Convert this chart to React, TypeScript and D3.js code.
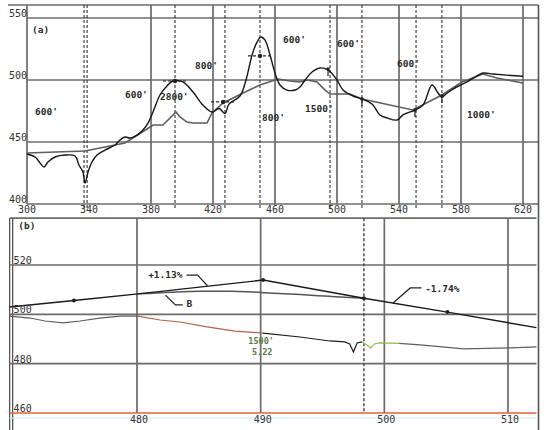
import React, { useEffect, useRef } from 'react';
import * as d3 from 'd3';

type Pt = [number, number];

// ---- panel (a): station (ft/100) vs elevation ----
const stationTicks = [300, 340, 380, 420, 460, 500, 540, 580, 620];
const gridStations = [300, 380, 420, 460, 500, 540, 580, 620];
const elevTicksA = [400, 450, 500, 550];

// existing ground profile (dark line)
const groundA: Pt[] = [
  [300, 440.3], [305.2, 437.9], [308.4, 433.1], [311.0, 429.8], [313.5, 433.9], [318.1, 437.9],
  [324.5, 439.5], [331.0, 438.7], [333.5, 431.5], [336.1, 425.8], [337.4, 416.9], [339.4, 425.8],
  [341.9, 433.9], [345.2, 439.5], [350.3, 443.5], [356.8, 447.6], [360.0, 451.6], [363.2, 454.0],
  [366.5, 453.2], [371.0, 455.6], [374.8, 459.7], [378.1, 465.3], [381.3, 474.2], [385.8, 487.9],
  [390.3, 495.2], [394.2, 499.2], [400.6, 498.4], [407.1, 490.3], [413.5, 479.8], [419.4, 474.2],
  [424.0, 477.0], [427.7, 473.0], [430.3, 480.5], [437.4, 487.1], [441.3, 500.0], [445.2, 520.2],
  [448.4, 530.6], [451.0, 534.7], [453.5, 532.3], [456.8, 520.2], [460.0, 505.6], [463.2, 496.0],
  [467.7, 491.9], [472.9, 491.9], [476.1, 494.4], [479.4, 500.0], [483.9, 506.5], [489.0, 509.7],
  [494.2, 508.1], [500.0, 500.0], [503.9, 491.9], [510.3, 487.1], [516.1, 484.7], [522.6, 480.6],
  [527.7, 471.8], [532.3, 469.4], [538.7, 467.7], [542.6, 471.8], [550.3, 475.8], [555.5, 479.8],
  [561.3, 496.0], [565.2, 489.5], [567.7, 486.3], [571.0, 489.5], [577.4, 494.4], [583.9, 498.4],
  [589.0, 502.4], [594.2, 505.6], [600.6, 504.8], [620, 503.0],
];

// grade line (gray)
const gradeA: Pt[] = [
  [300, 441.1], [337.4, 442.7], [363.2, 449.2], [377.4, 460.5], [381.3, 463.7], [387.7, 463.7],
  [392.3, 469.4], [396.1, 474.2], [398.7, 470.2], [403.2, 466.1], [407.1, 465.3], [416.1, 465.3],
  [419.4, 473.4], [426.5, 481.5], [439.4, 489.5], [450.3, 496.0], [461.9, 500.8], [469.7, 499.2],
  [476.1, 498.4], [480.6, 500.0], [487.1, 498.4], [492.3, 491.9], [495.5, 488.7], [508.4, 488.7],
  [516.1, 484.7], [549.0, 475.8], [567.7, 487.9], [580.6, 498.4], [594.2, 504.8], [603.2, 501.6],
  [620, 497.6],
];

const dashedStations = [336.8, 338.8, 395.5, 427.7, 450.3, 495.5, 516.1, 551.0, 567.7];
const pviMarks: Pt[] = [[395.5, 499.2], [426.5, 482.3], [450.3, 519.4]];
const vertexMarks: Pt[] = [[494.2, 508.9], [516.1, 484.7], [550.3, 475.8], [567.7, 487.1]];

const labelsA = [
  { t: '(a)', s: 303.2, e: 537.9 },
  { t: "600'", s: 305.2, e: 471.8 },
  { t: "600'", s: 363.2, e: 485.5 },
  { t: "2800'", s: 385.8, e: 483.9 },
  { t: "800'", s: 408.4, e: 508.9 },
  { t: "800'", s: 451.6, e: 466.9 },
  { t: "600'", s: 465.2, e: 529.8 },
  { t: "600'", s: 500.0, e: 526.6 },
  { t: "600'", s: 538.7, e: 510.5 },
  { t: "1500'", s: 479.4, e: 474.2 },
  { t: "1000'", s: 583.9, e: 469.4 },
];

// ---- panel (b): vertical curve detail ----
const stationTicksB = [480, 490, 500, 510];
const elevTicksB = [460, 480, 500, 520];

const tangentB: Pt[] = [[469.7, 503.0], [474.9, 505.6], [480.1, 508.3], [490.2, 513.9], [498.35, 506.5], [505.1, 500.9], [512.3, 494.6]];
const curveB: Pt[] = [[480.1, 508.3], [482.7, 509.0], [485.1, 509.4], [487.5, 509.4], [490.2, 508.8], [493.2, 508.0], [495.6, 507.3], [498.35, 506.5]];
const tangentMarks: Pt[] = [[474.9, 505.6], [490.2, 513.9], [498.35, 506.5], [505.1, 500.9]];

const groundBLeft: Pt[] = [[469.7, 499.3], [471.35, 498.5], [472.56, 497.3], [474.02, 496.5], [475.39, 497.3], [477.0, 498.5], [478.63, 499.3], [480.08, 499.3]];
const groundBRed: Pt[] = [[480.08, 499.3], [481.86, 497.7], [483.48, 496.9], [485.66, 494.9], [487.92, 493.2], [490.19, 492.4]];
const groundBDark: Pt[] = [[490.19, 492.4], [493.18, 490.8], [495.6, 489.2], [496.8, 488.8], [497.2, 488.0], [497.5, 484.7], [497.8, 488.4], [498.2, 488.8]];
const groundBGreen: Pt[] = [[498.2, 488.8], [498.6, 487.6], [498.9, 486.4], [499.2, 488.0], [499.6, 488.4], [501.2, 488.2]];
const groundBRight: Pt[] = [[501.2, 488.2], [502.9, 487.6], [506.4, 486.0], [510.2, 486.4], [512.3, 486.8]];
const dashedStationB = 498.35;

const W = 550;
const H = 430;
const font = '"DejaVu Sans Mono", monospace';

const App: React.FC = () => {
  const svgRef = useRef<SVGSVGElement | null>(null);

  useEffect(() => {
    const svg = d3.select(svgRef.current);
    svg.selectAll('*').remove();
    svg.append('rect').attr('width', W).attr('height', H).attr('fill', '#fff');

    const gridColor = '#6b6b6b';

    // ===== panel (a) =====
    const xA = d3.scaleLinear().domain([300, 620]).range([27, 523]);
    const yA = d3.scaleLinear().domain([400, 550]).range([204, 18]);
    const aRight = xA(630);
    const aTop = yA(560.5);

    const a = svg.append('g');

    a.selectAll('line.h')
      .data(elevTicksA)
      .enter()
      .append('line')
      .attr('x1', xA(300))
      .attr('x2', aRight)
      .attr('y1', (d) => yA(d))
      .attr('y2', (d) => yA(d))
      .attr('stroke', gridColor)
      .attr('stroke-width', 1.7);

    a.append('line').attr('x1', 8).attr('x2', aRight).attr('y1', aTop).attr('y2', aTop)
      .attr('stroke', gridColor).attr('stroke-width', 1.4);

    a.selectAll('line.v')
      .data(gridStations)
      .enter()
      .append('line')
      .attr('x1', (d) => xA(d))
      .attr('x2', (d) => xA(d))
      .attr('y1', aTop)
      .attr('y2', yA(400))
      .attr('stroke', gridColor)
      .attr('stroke-width', 1.7);

    a.selectAll('line.d')
      .data(dashedStations)
      .enter()
      .append('line')
      .attr('x1', (d) => xA(d))
      .attr('x2', (d) => xA(d))
      .attr('y1', aTop)
      .attr('y2', yA(400) + 4)
      .attr('stroke', '#444')
      .attr('stroke-width', 1.2)
      .attr('stroke-dasharray', '3,2');

    // right frame (shared by both panels)
    svg.append('line').attr('x1', aRight).attr('x2', aRight).attr('y1', aTop).attr('y2', H)
      .attr('stroke', '#555').attr('stroke-width', 1.6);

    const lineA = d3.line<Pt>().x((d) => xA(d[0])).y((d) => yA(d[1]));

    a.append('path')
      .attr('d', lineA.curve(d3.curveLinear)(gradeA))
      .attr('fill', 'none')
      .attr('stroke', '#5e5e5e')
      .attr('stroke-width', 1.6);

    a.append('path')
      .attr('d', lineA.curve(d3.curveCatmullRom.alpha(0.5))(groundA))
      .attr('fill', 'none')
      .attr('stroke', '#161616')
      .attr('stroke-width', 1.4);

    pviMarks.forEach(([s, e]) => {
      a.append('line').attr('x1', xA(s) - 12).attr('x2', xA(s) + 12).attr('y1', yA(e)).attr('y2', yA(e))
        .attr('stroke', '#222').attr('stroke-width', 1.2).attr('stroke-dasharray', '3,2');
      a.append('circle').attr('cx', xA(s)).attr('cy', yA(e)).attr('r', 2.2).attr('fill', '#222');
    });

    vertexMarks.forEach(([s, e]) => {
      a.append('line').attr('x1', xA(s)).attr('x2', xA(s)).attr('y1', yA(e)).attr('y2', yA(e) + 7)
        .attr('stroke', '#222').attr('stroke-width', 1.2);
      a.append('circle').attr('cx', xA(s)).attr('cy', yA(e)).attr('r', 1.8).attr('fill', '#222');
    });

    a.selectAll('text.lab')
      .data(labelsA)
      .enter()
      .append('text')
      .attr('x', (d) => xA(d.s))
      .attr('y', (d) => yA(d.e))
      .attr('font-family', font)
      .attr('font-size', 9.5)
      .attr('font-weight', 'bold')
      .attr('fill', '#2a2a2a')
      .text((d) => d.t);

    a.selectAll('text.xt')
      .data(stationTicks)
      .enter()
      .append('text')
      .attr('x', (d) => xA(d))
      .attr('y', 213)
      .attr('text-anchor', 'middle')
      .attr('font-family', font)
      .attr('font-size', 10)
      .attr('fill', '#333')
      .text((d) => d);

    a.selectAll('text.yt')
      .data(elevTicksA)
      .enter()
      .append('text')
      .attr('x', xA(300))
      .attr('y', (d) => yA(d) - 1)
      .attr('text-anchor', 'end')
      .attr('font-family', font)
      .attr('font-size', 10)
      .attr('fill', '#333')
      .text((d) => d);

    // ===== panel (b) =====
    const xB = d3.scaleLinear().domain([480, 510]).range([137, 508]);
    const yB = d3.scaleLinear().domain([460, 520]).range([413, 265]);
    const bLeft = xB(469.7);
    const bRight = xB(512.3);
    const bTop = yB(539);
    const bBottom = yB(460);

    const b = svg.append('g');

    b.append('line').attr('x1', bLeft).attr('x2', bRight).attr('y1', bTop).attr('y2', bTop)
      .attr('stroke', gridColor).attr('stroke-width', 1.6);
    [bLeft, bLeft + 3].forEach((x) => {
      b.append('line').attr('x1', x).attr('x2', x).attr('y1', bTop).attr('y2', H)
        .attr('stroke', '#555').attr('stroke-width', 1.3);
    });

    b.selectAll('line.h')
      .data(elevTicksB.filter((d) => d !== 460))
      .enter()
      .append('line')
      .attr('x1', bLeft)
      .attr('x2', bRight)
      .attr('y1', (d) => yB(d))
      .attr('y2', (d) => yB(d))
      .attr('stroke', gridColor)
      .attr('stroke-width', 1.7);

    b.selectAll('line.v')
      .data(stationTicksB)
      .enter()
      .append('line')
      .attr('x1', (d) => xB(d))
      .attr('x2', (d) => xB(d))
      .attr('y1', bTop)
      .attr('y2', bBottom)
      .attr('stroke', gridColor)
      .attr('stroke-width', 1.7);

    b.append('line').attr('x1', xB(dashedStationB)).attr('x2', xB(dashedStationB)).attr('y1', bTop).attr('y2', bBottom)
      .attr('stroke', '#333').attr('stroke-width', 1.3).attr('stroke-dasharray', '3,2');

    b.append('line').attr('x1', bLeft).attr('x2', bRight).attr('y1', bBottom).attr('y2', bBottom)
      .attr('stroke', '#e8603c').attr('stroke-width', 1.6);
    b.append('line').attr('x1', bLeft).attr('x2', bRight).attr('y1', bBottom + 5).attr('y2', bBottom + 5)
      .attr('stroke', '#c9ecec').attr('stroke-width', 1);

    const lineB = d3.line<Pt>().x((d) => xB(d[0])).y((d) => yB(d[1]));

    const groundParts: [Pt[], string][] = [
      [groundBLeft, '#5f5f5f'],
      [groundBRed, '#b4604c'],
      [groundBDark, '#1e1e1e'],
      [groundBGreen, '#8cc04a'],
      [groundBRight, '#5f5f5f'],
    ];
    groundParts.forEach(([pts, c]) => {
      b.append('path')
        .attr('d', lineB.curve(d3.curveLinear)(pts))
        .attr('fill', 'none')
        .attr('stroke', c)
        .attr('stroke-width', 1.2);
    });

    b.append('path')
      .attr('d', lineB.curve(d3.curveMonotoneX)(curveB))
      .attr('fill', 'none')
      .attr('stroke', '#555')
      .attr('stroke-width', 1.5);

    b.append('path')
      .attr('d', lineB.curve(d3.curveLinear)(tangentB))
      .attr('fill', 'none')
      .attr('stroke', '#1a1a1a')
      .attr('stroke-width', 1.4);

    tangentMarks.forEach(([s, e]) => {
      b.append('circle').attr('cx', xB(s)).attr('cy', yB(e)).attr('r', 2).attr('fill', '#222');
    });

    // leaders and notes
    const leaders: Pt[][] = [
      [[484.0, 515.9], [484.9, 515.9], [485.7, 511.6]],
      [[482.3, 507.8], [483.1, 503.8], [483.7, 503.8]],
      [[500.7, 504.6], [502.1, 510.7], [503.0, 510.7]],
    ];
    leaders.forEach((pts) => {
      b.append('path')
        .attr('d', lineB.curve(d3.curveLinear)(pts))
        .attr('fill', 'none')
        .attr('stroke', '#222')
        .attr('stroke-width', 1.2);
    });

    const notesB = [
      { t: '(b)', s: 470.4, e: 534.6, c: '#2a2a2a', f: 9.5 },
      { t: '+1.13%', s: 480.9, e: 514.7, c: '#2a2a2a', f: 9.5 },
      { t: 'B', s: 484.0, e: 503.0, c: '#2a2a2a', f: 9.5 },
      { t: '-1.74%', s: 503.3, e: 509.1, c: '#2a2a2a', f: 9.5 },
      { t: "1500'", s: 489.0, e: 488.0, c: '#5d7a45', f: 8.5 },
      { t: '5.22', s: 489.3, e: 483.5, c: '#5d7a45', f: 8.5 },
    ];
    b.selectAll('text.n')
      .data(notesB)
      .enter()
      .append('text')
      .attr('x', (d) => xB(d.s))
      .attr('y', (d) => yB(d.e))
      .attr('font-family', font)
      .attr('font-size', (d) => d.f)
      .attr('font-weight', 'bold')
      .attr('fill', (d) => d.c)
      .text((d) => d.t);

    b.selectAll('text.xt')
      .data(stationTicksB)
      .enter()
      .append('text')
      .attr('x', (d) => xB(d) + 2)
      .attr('y', 423)
      .attr('text-anchor', 'middle')
      .attr('font-family', font)
      .attr('font-size', 10)
      .attr('fill', '#333')
      .text((d) => d);

    b.selectAll('text.yt')
      .data(elevTicksB)
      .enter()
      .append('text')
      .attr('x', bLeft + 4)
      .attr('y', (d) => yB(d) - 1)
      .attr('font-family', font)
      .attr('font-size', 10)
      .attr('fill', '#333')
      .text((d) => d);
  }, []);

  return (
    <svg
      ref={svgRef}
      width={W}
      height={H}
      style={{ position: 'absolute', left: 0, top: 0, display: 'block' }}
    ></svg>
  );
};

export default App;
